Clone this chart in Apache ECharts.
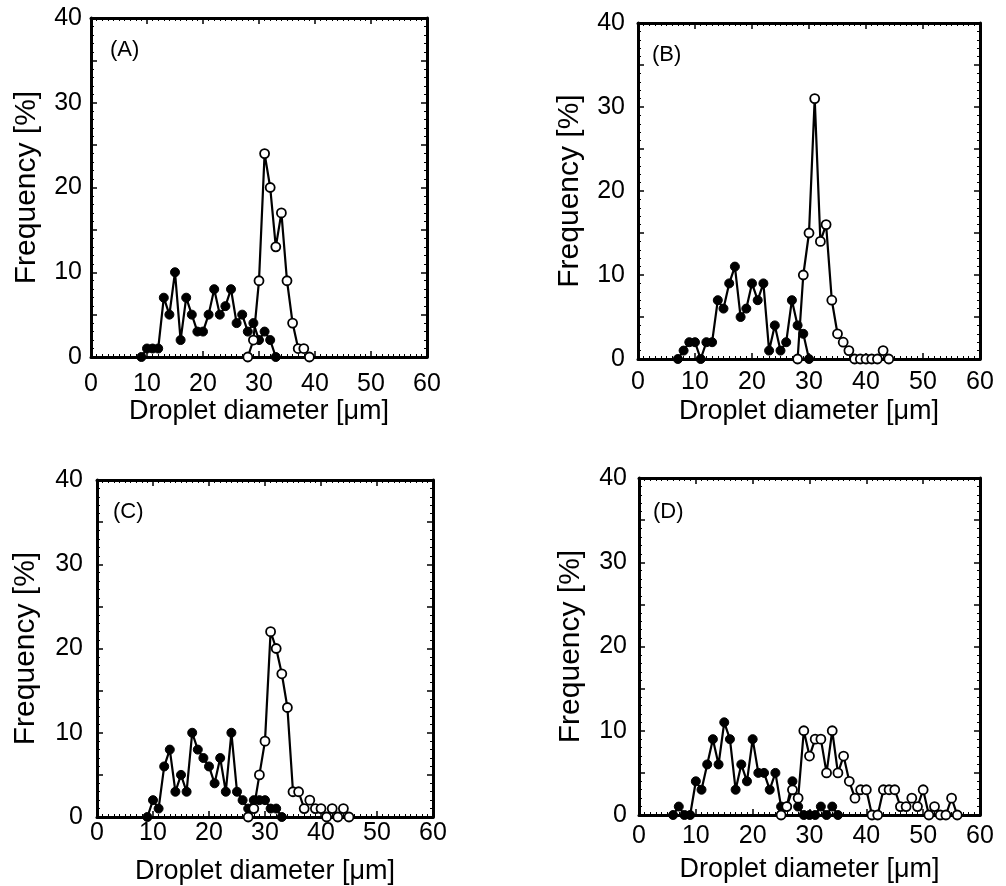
<!DOCTYPE html>
<html>
<head>
<meta charset="utf-8">
<script src="https://cdn.jsdelivr.net/npm/echarts/dist/echarts.min.js"></script>
<style>
html,body{margin:0;padding:0;background:#fff}
#main{width:1006px;height:886px}
</style>
</head>
<body>
<div id="main"></div>
<script>
// (A)
var aSolidX = [9,10,11,12,13,14,15,16,17,18,19,20,21,22,23,24,25,26,27,28,29,30,31,32,33];
var aSolidY = [0,1,1,1,7,5,10,2,7,5,3,3,5,8,5,6,8,4,5,3,4,2,3,2,0];
var aOpenX  = [28,29,30,31,32,33,34,35,36,37,38,39];
var aOpenY  = [0,2,9,24,20,13,17,9,4,1,1,0];
// (B)
var bSolidX = [7,8,9,10,11,12,13,14,15,16,17,18,19,20,21,22,23,24,25,26,27,28,29,30];
var bSolidY = [0,1,2,2,0,2,2,7,6,9,11,5,6,9,7,9,1,4,1,2,7,4,3,0];
var bOpenX  = [28,29,30,31,32,33,34,35,36,37,38,39,40,41,42,43,44];
var bOpenY  = [0,10,15,31,14,16,7,3,2,1,0,0,0,0,0,1,0];
// (C)
var cSolidX = [9,10,11,12,13,14,15,16,17,18,19,20,21,22,23,24,25,26,27,28,29,30,31,32,33];
var cSolidY = [0,2,1,6,8,3,5,3,10,8,7,6,4,7,3,10,3,2,1,2,2,2,1,1,0];
var cOpenX  = [27,28,29,30,31,32,33,34,35,36,37,38,39,40,41,42,43,44,45];
var cOpenY  = [0,1,5,9,22,20,17,13,3,3,1,2,1,1,0,1,0,1,0];
// (D)
var dSolidX = [6,7,8,9,10,11,12,13,14,15,16,17,18,19,20,21,22,23,24,25,26,27,28,29,30,31,32,33,34,35];
var dSolidY = [0,1,0,0,4,3,6,9,6,11,9,3,6,4,9,5,5,3,5,1,1,4,1,0,0,0,1,0,1,0];
var dOpenX  = [25,26,27,28,29,30,31,32,33,34,35,36,37,38,39,40,41,42,43,44,45,46,47,48,49,50,51,52,53,54,55,56];
var dOpenY  = [0,1,3,2,10,7,9,9,5,10,5,7,4,2,3,3,0,0,3,3,3,1,1,2,1,3,0,1,0,0,2,0];

var xTicks = [0,10,20,30,40,50,60];
var yTicks = [0,10,20,30,40];

var panels = [
    {label:'(A)', left:91,  top:18,  width:336, height:339, xMargin:15, yMargin:9,  yShift:9, xGap:40, yGap:49, lx:110, ly:39,
     solid:[aSolidX,aSolidY], open:[aOpenX,aOpenY]},
    {label:'(B)', left:638, top:23,  width:342, height:336, xMargin:11, yMargin:13, yShift:0, xGap:39, yGap:53, lx:652, ly:44,
     solid:[bSolidX,bSolidY], open:[bOpenX,bOpenY]},
    {label:'(C)', left:97,  top:480, width:336, height:337, xMargin:4,  yMargin:14, yShift:3, xGap:41, yGap:56, lx:113, ly:501,
     solid:[cSolidX,cSolidY], open:[cOpenX,cOpenY]},
    {label:'(D)', left:639, top:478, width:341, height:337, xMargin:9,  yMargin:12, yShift:3, xGap:41, yGap:53, lx:653, ly:501,
     solid:[dSolidX,dSolidY], open:[dOpenX,dOpenY]}
];

function pairs(xs, ys) {
    var out = [];
    for (var i = 0; i < xs.length; i++) out.push([xs[i], ys[i]]);
    return out;
}

var font = 'Liberation Sans, Arial, sans-serif';
var grid = [], xAxis = [], yAxis = [], series = [], graphic = [];

panels.forEach(function (p, i) {
    grid.push({left: p.left, top: p.top, width: p.width, height: p.height, show: false});

    var tick = {show: true, inside: true, length: 6, lineStyle: {color: '#000', width: 1.5}};
    var line = {show: true, onZero: false, lineStyle: {color: '#000', width: 3}};

    // bottom / top
    [false, true].forEach(function (mirror) {
        xAxis.push({
            type: 'value', gridIndex: i, min: 0, max: 60, interval: 10,
            position: mirror ? 'top' : 'bottom',
            name: mirror ? '' : 'Droplet diameter [μm]',
            nameLocation: 'middle', nameGap: p.xGap,
            nameTextStyle: {fontFamily: font, fontSize: 27, color: '#000'},
            axisLine: line, axisTick: tick,
            minorTick: {show: true, splitNumber: 10, length: 3, lineStyle: {color: '#000', width: 1}},
            splitLine: {show: false},
            axisLabel: {show: !mirror, margin: p.xMargin, fontFamily: font, fontSize: 25, color: '#000',
                showMinLabel: true, showMaxLabel: true,
                formatter: function (v) { return xTicks.indexOf(v) >= 0 ? String(v) : ''; }}
        });
    });
    // left / right
    [false, true].forEach(function (mirror) {
        yAxis.push({
            type: 'value', gridIndex: i, min: 0, max: 40, interval: 5,
            position: mirror ? 'right' : 'left',
            name: mirror ? '' : 'Frequency [%]',
            nameLocation: 'middle', nameGap: p.yGap,
            nameTextStyle: {fontFamily: font, fontSize: 30, color: '#000'},
            axisLine: line, axisTick: tick,
            minorTick: {show: true, splitNumber: 5, length: 3, lineStyle: {color: '#000', width: 1}},
            splitLine: {show: false},
            axisLabel: {show: !mirror, margin: p.yMargin, fontFamily: font, fontSize: 25, color: '#000',
                padding: [p.yShift * 2, 0, 0, 0],
                showMinLabel: true, showMaxLabel: true,
                formatter: function (v) { return yTicks.indexOf(v) >= 0 ? String(v) : ''; }}
        });
    });

    series.push({
        type: 'line', xAxisIndex: 2 * i, yAxisIndex: 2 * i,
        data: pairs(p.solid[0], p.solid[1]),
        symbol: 'circle', symbolSize: 9, showAllSymbol: true,
        lineStyle: {color: '#000', width: 2.2},
        itemStyle: {color: '#000', borderColor: '#000', borderWidth: 1},
        z: 2
    });
    series.push({
        type: 'line', xAxisIndex: 2 * i, yAxisIndex: 2 * i,
        data: pairs(p.open[0], p.open[1]),
        symbol: 'circle', symbolSize: 9, showAllSymbol: true,
        lineStyle: {color: '#000', width: 2.2},
        itemStyle: {color: '#fff', borderColor: '#000', borderWidth: 1.8},
        z: 3
    });

    graphic.push({
        type: 'text', left: p.lx, top: p.ly,
        style: {text: p.label, font: '22px ' + font, fill: '#000'}
    });
});

var myChart = echarts.init(document.getElementById('main'));
myChart.setOption({
    backgroundColor: '#fff',
    animation: false,
    grid: grid,
    xAxis: xAxis,
    yAxis: yAxis,
    series: series,
    graphic: graphic
});
</script>
</body>
</html>
